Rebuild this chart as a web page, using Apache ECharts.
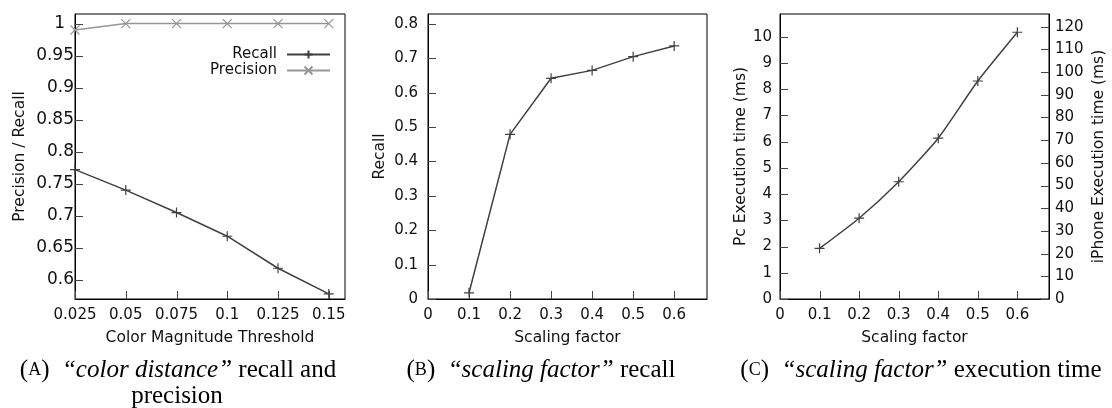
<!DOCTYPE html>
<html>
<head>
<meta charset="utf-8">
<script src="https://cdn.jsdelivr.net/npm/echarts@6/dist/echarts.min.js"></script>
<style>
html,body{margin:0;padding:0;background:#fff;}
#c{width:1112px;height:408px;}
</style>
</head>
<body>
<div id="c"></div>
<script>
// ---- data ----
const thresholds = [0.025, 0.05, 0.075, 0.1, 0.125, 0.15];
const recallA = [0.772, 0.740, 0.705, 0.668, 0.618, 0.578];
const precisionA = [0.99, 1, 1, 1, 1, 1];
const scalingFactors = [0.1, 0.2, 0.3, 0.4, 0.5, 0.6];
const recallB = [0.018, 0.479, 0.642, 0.665, 0.705, 0.736];
const pcTimeC = [1.93, 3.08, 4.47, 6.13, 8.31, 10.17];

// ---- tick values ----
const ticksAx = [0.025, 0.05, 0.075, 0.1, 0.125, 0.15];
const ticksAy = [0.6, 0.65, 0.7, 0.75, 0.8, 0.85, 0.9, 0.95, 1];
const ticksScale = [0, 0.1, 0.2, 0.3, 0.4, 0.5, 0.6];
const ticksBy = [0, 0.1, 0.2, 0.3, 0.4, 0.5, 0.6, 0.7, 0.8];
const ticksCy = [0, 1, 2, 3, 4, 5, 6, 7, 8, 9, 10];
const ticksCy2 = [0, 10, 20, 30, 40, 50, 60, 70, 80, 90, 100, 110, 120];

// ---- axis ranges ----
const rangeAx = [0.025, 0.158], rangeAy = [0.57, 1.015];
const rangeSx = [0, 0.68], rangeBy = [0, 0.829];
const rangeCy = [0, 10.865], rangeCy2 = [0, 125.6];

const FONT = 'DejaVu Sans';
const FS = 15;
const DARK = '#404040';
const LIGHT = '#969696';
const TICK = '#444';
const PLUS = 'path://M0,5L10,5M5,0L5,10';
const CROSS = 'path://M0,0L10,10M10,0L0,10';

function pairs(xs, ys) { return xs.map((x, i) => [x, ys[i]]); }

function axis(grid, range, ticks, name, gap, margin, extra) {
  return Object.assign({
    type: 'value', gridIndex: grid, min: range[0], max: range[1],
    name: name, nameLocation: 'middle', nameGap: gap,
    nameTextStyle: { fontFamily: FONT, fontSize: 15.5, color: '#111' },
    axisLine: { show: true, lineStyle: { color: '#000', width: 1 } },
    axisTick: { show: false },
    axisLabel: { customValues: ticks, margin: margin, fontFamily: FONT, fontSize: FS, color: '#111' },
    splitLine: { show: false }
  }, extra || {});
}

// inward tick marks, positioned through the axes' own scales
function tickSeries(xi, yi, data, kind) {
  return {
    type: 'custom', xAxisIndex: xi, yAxisIndex: yi, silent: true, clip: false, z: 5,
    data: data,
    renderItem: function (params, api) {
      const p = api.coord([api.value(0), api.value(1)]);
      let shape;
      if (kind === 'x') {
        const x = Math.round(p[0]) + 0.5;
        shape = { x1: x, y1: p[1], x2: x, y2: p[1] - 8 };
      } else if (kind === 'y') {
        const y = Math.round(p[1]) + 0.5;
        shape = { x1: p[0], y1: y, x2: p[0] + 8, y2: y };
      } else {
        const y = Math.round(p[1]) + 0.5;
        shape = { x1: p[0], y1: y, x2: p[0] - 8, y2: y };
      }
      return { type: 'line', shape: shape, style: { stroke: TICK, lineWidth: 1 } };
    }
  };
}

const chart = echarts.init(document.getElementById('c'), null, { renderer: 'canvas' });

const yA = axis(0, rangeAy, ticksAy, 'Precision / Recall', 47, 1);
yA.axisLabel.fontSize = 17;
yA.axisLabel.formatter = function (v) { return v === 1 ? '{p|1}' : String(v); };
yA.axisLabel.rich = { p: { fontFamily: FONT, fontSize: 17, color: '#111', padding: [0, 9, 0, 0] } };

const capBase = { fontFamily: 'Liberation Serif', fontSize: 25, fill: '#000', color: '#000' };
const capRich = {
  n: capBase,
  s: Object.assign({}, capBase, { fontSize: 18 }),
  i: Object.assign({}, capBase, { fontStyle: 'italic' })
};
function caption(x, y, text) {
  return { type: 'text', x: x, y: y, style: { text: text, rich: capRich, textAlign: 'center', textVerticalAlign: 'middle', font: '25px "Liberation Serif"', fill: '#000' } };
}

chart.setOption({
  animation: false,
  backgroundColor: '#fff',
  grid: [
    { left: 75, right: 767, top: 14, bottom: 109, show: true, borderColor: '#000', borderWidth: 1 },
    { left: 428, right: 405, top: 14, bottom: 109, show: true, borderColor: '#000', borderWidth: 1 },
    { left: 780, right: 63, top: 14, bottom: 109, show: true, borderColor: '#000', borderWidth: 1 }
  ],
  legend: {
    orient: 'vertical', right: 776, top: 42, align: 'right',
    itemWidth: 43, itemHeight: 10, itemGap: 1,
    textStyle: { fontFamily: FONT, fontSize: FS, color: '#111', padding: [0, 5, 0, 0] },
    data: ['Recall', 'Precision']
  },
  xAxis: [
    axis(0, rangeAx, ticksAx, 'Color Magnitude Threshold', 31, 9),
    axis(1, rangeSx, ticksScale, 'Scaling factor', 31, 9),
    axis(2, rangeSx, ticksScale, 'Scaling factor', 31, 9)
  ],
  yAxis: [
    yA,
    axis(1, rangeBy, ticksBy, 'Recall', 40, 10),
    axis(2, rangeCy, ticksCy, 'Pc Execution time (ms)', 25, 8),
    axis(2, rangeCy2, ticksCy2, 'iPhone Execution time (ms)', 42, 6, { position: 'right', nameRotate: 90 })
  ],
  series: [
    { name: 'Recall', type: 'line', xAxisIndex: 0, yAxisIndex: 0, data: pairs(thresholds, recallA),
      symbol: PLUS, symbolSize: 10, showAllSymbol: true,
      lineStyle: { color: DARK, width: 1.5 }, itemStyle: { color: DARK, borderColor: DARK, borderWidth: 1.2 } },
    { name: 'Precision', type: 'line', xAxisIndex: 0, yAxisIndex: 0, data: pairs(thresholds, precisionA),
      symbol: CROSS, symbolSize: 9, showAllSymbol: true,
      lineStyle: { color: LIGHT, width: 1.5 }, itemStyle: { color: LIGHT, borderColor: LIGHT, borderWidth: 1.2 } },
    { name: 'RecallB', type: 'line', xAxisIndex: 1, yAxisIndex: 1, data: pairs(scalingFactors, recallB),
      symbol: PLUS, symbolSize: 10, showAllSymbol: true,
      lineStyle: { color: DARK, width: 1.5 }, itemStyle: { color: DARK, borderColor: DARK, borderWidth: 1.2 } },
    { name: 'PcTime', type: 'line', xAxisIndex: 2, yAxisIndex: 2, data: pairs(scalingFactors, pcTimeC),
      symbol: PLUS, symbolSize: 10, showAllSymbol: true, smooth: 0.2,
      lineStyle: { color: DARK, width: 1.5 }, itemStyle: { color: DARK, borderColor: DARK, borderWidth: 1.2 } },
    tickSeries(0, 0, ticksAx.map(v => [v, rangeAy[0]]), 'x'),
    tickSeries(0, 0, ticksAy.map(v => [rangeAx[0], v]), 'y'),
    tickSeries(1, 1, ticksScale.map(v => [v, rangeBy[0]]), 'x'),
    tickSeries(1, 1, ticksBy.map(v => [rangeSx[0], v]), 'y'),
    tickSeries(2, 2, ticksScale.map(v => [v, rangeCy[0]]), 'x'),
    tickSeries(2, 2, ticksCy.map(v => [rangeSx[0], v]), 'y'),
    tickSeries(2, 3, ticksCy2.map(v => [rangeSx[1], v]), 'r')
  ],
  graphic: [
    caption(178, 370, '{n|(}{s|A}{n|)  }{i|“color distance”}{n| recall and}'),
    caption(177, 396, '{n|precision}'),
    caption(541, 370, '{n|(}{s|B}{n|)  }{i|“scaling factor”}{n| recall}'),
    caption(921, 370, '{n|(}{s|C}{n|)  }{i|“scaling factor”}{n| execution time}')
  ]
});
</script>
</body>
</html>
